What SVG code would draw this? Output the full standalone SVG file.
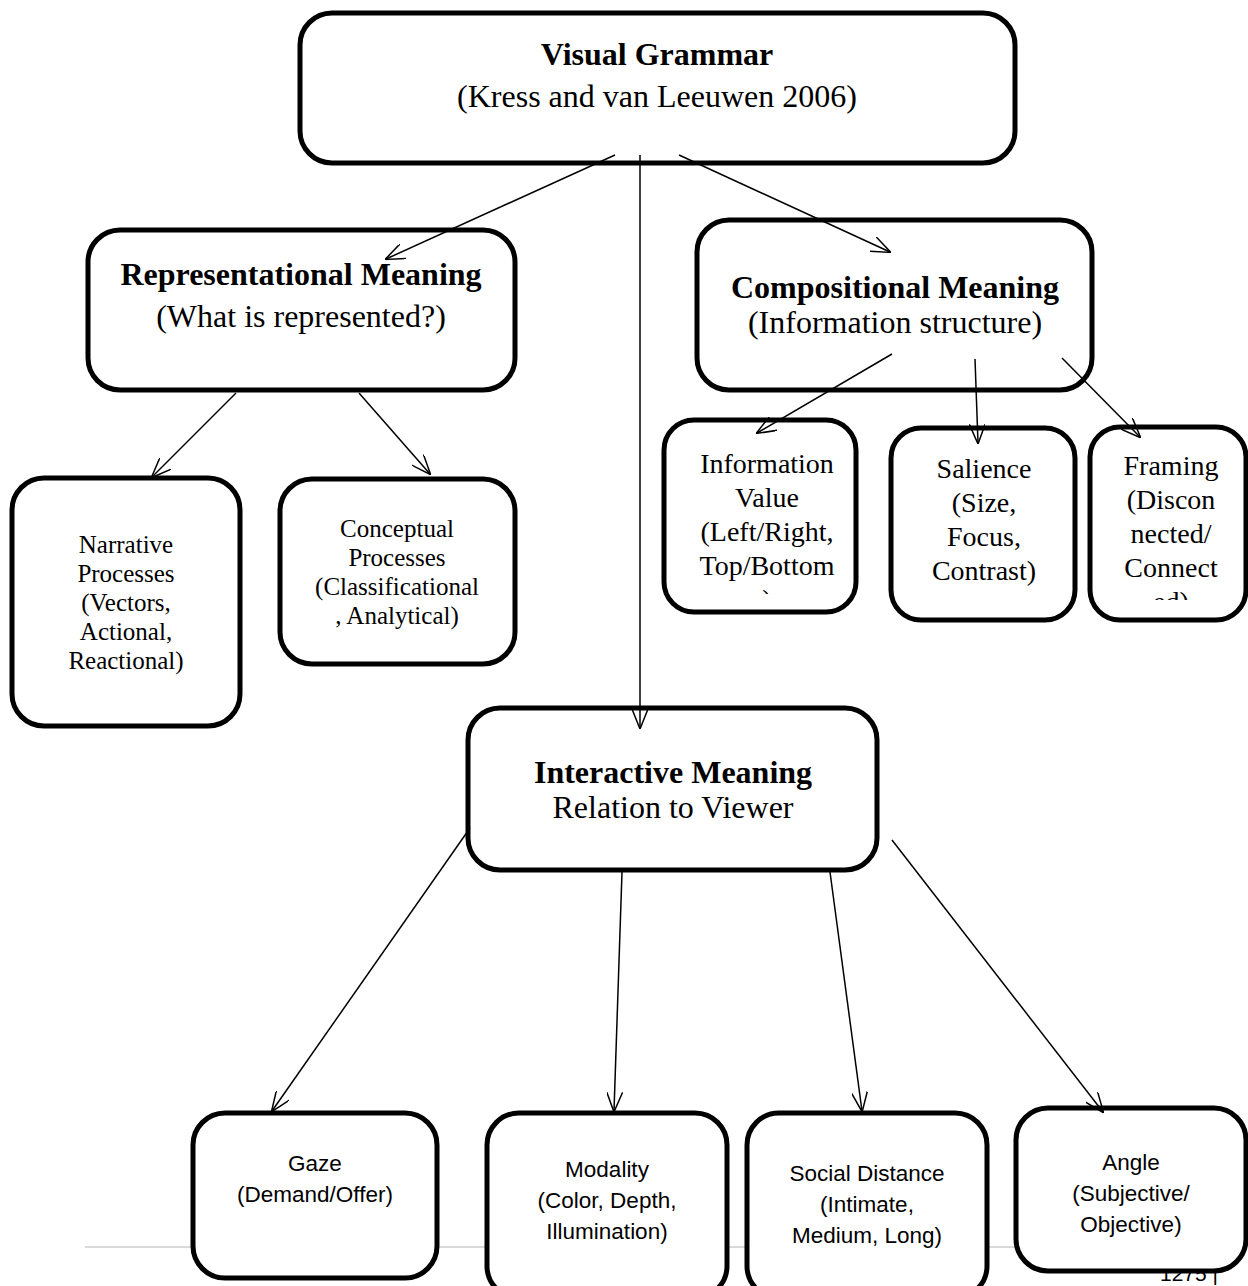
<svg xmlns="http://www.w3.org/2000/svg" width="1248" height="1286" viewBox="0 0 1248 1286">
<defs>
<style>
.box{fill:#fff;stroke:#000;stroke-width:5}
.serif{font-family:"Liberation Serif","Times New Roman",serif;fill:#000;text-anchor:middle}
.h{font-size:32px}
.b{font-weight:bold}
.m{font-size:25px}
.l{font-size:28px}
.sans{font-family:"Liberation Sans",Arial,sans-serif;font-size:22.5px;fill:#000;text-anchor:middle}
.conn line{stroke:#000;stroke-width:1.5;fill:none;marker-end:url(#arr)}
</style>
<marker id="arr" viewBox="0 0 20 16" refX="19" refY="8" markerWidth="20" markerHeight="16" markerUnits="userSpaceOnUse" orient="auto">
<path d="M0,0 L20,8 L0,16" fill="none" stroke="#000" stroke-width="1.5"/>
</marker>
<clipPath id="clipInfo"><rect x="664" y="420" width="194" height="174"/></clipPath>
<clipPath id="clipFrame"><rect x="1090" y="427" width="158" height="173"/></clipPath>
</defs>
<rect width="1248" height="1286" fill="#fff"/>
<g id="footer">
<line x1="85" y1="1247" x2="1160" y2="1247" stroke="#d9d9d9" stroke-width="2"/>
<text x="1160" y="1281" font-family="Liberation Sans,Arial,sans-serif" font-size="21" fill="#000">1275 |</text>
</g>
<g id="visual-grammar">
<rect class="box" x="300" y="13" width="715" height="150" rx="32"/>
<text class="serif h b" x="657" y="65">Visual Grammar</text>
<text class="serif h" x="657" y="107">(Kress and van Leeuwen 2006)</text>
</g>
<g id="representational">
<rect class="box" x="88" y="230" width="427" height="160" rx="32"/>
<text class="serif h b" x="301" y="285">Representational Meaning</text>
<text class="serif h" x="301" y="327">(What is represented?)</text>
</g>
<g id="compositional">
<rect class="box" x="697" y="220" width="395" height="170" rx="32"/>
<text class="serif h b" x="895" y="298">Compositional Meaning</text>
<text class="serif h" x="895" y="333">(Information structure)</text>
</g>
<g id="narrative">
<rect class="box" x="12" y="478" width="228" height="248" rx="32"/>
<text class="serif m" x="126" y="553">Narrative</text>
<text class="serif m" x="126" y="582">Processes</text>
<text class="serif m" x="126" y="611">(Vectors,</text>
<text class="serif m" x="126" y="640">Actional,</text>
<text class="serif m" x="126" y="669">Reactional)</text>
</g>
<g id="conceptual">
<rect class="box" x="280" y="479" width="235" height="185" rx="32"/>
<text class="serif m" x="397" y="537">Conceptual</text>
<text class="serif m" x="397" y="566">Processes</text>
<text class="serif m" x="397" y="595">(Classificational</text>
<text class="serif m" x="397" y="624">, Analytical)</text>
</g>
<g id="information-value">
<rect class="box" x="664" y="420" width="192" height="192" rx="30"/>
<g clip-path="url(#clipInfo)">
<text class="serif l" x="767" y="473">Information</text>
<text class="serif l" x="767" y="507">Value</text>
<text class="serif l" x="767" y="541">(Left/Right,</text>
<text class="serif l" x="767" y="575">Top/Bottom</text>
<text class="serif l" x="767" y="609">)</text>
</g>
</g>
<g id="salience">
<rect class="box" x="891" y="428" width="184" height="192" rx="30"/>
<text class="serif l" x="984" y="478">Salience</text>
<text class="serif l" x="984" y="512">(Size,</text>
<text class="serif l" x="984" y="546">Focus,</text>
<text class="serif l" x="984" y="580">Contrast)</text>
</g>
<g id="framing">
<rect class="box" x="1090" y="427" width="156" height="193" rx="30"/>
<g clip-path="url(#clipFrame)">
<text class="serif l" x="1171" y="475">Framing</text>
<text class="serif l" x="1171" y="509">(Discon</text>
<text class="serif l" x="1171" y="543">nected/</text>
<text class="serif l" x="1171" y="577">Connect</text>
<text class="serif l" x="1171" y="611">ed)</text>
</g>
</g>
<g id="interactive">
<rect class="box" x="468" y="708" width="409" height="162" rx="32"/>
<text class="serif h b" x="673" y="783">Interactive Meaning</text>
<text class="serif h" x="673" y="818">Relation to Viewer</text>
</g>
<g id="gaze">
<rect class="box" x="193" y="1113" width="244" height="165" rx="32"/>
<text class="sans" x="315" y="1171">Gaze</text>
<text class="sans" x="315" y="1202">(Demand/Offer)</text>
</g>
<g id="modality">
<rect class="box" x="487" y="1113" width="240" height="185" rx="32"/>
<text class="sans" x="607" y="1177">Modality</text>
<text class="sans" x="607" y="1208">(Color, Depth,</text>
<text class="sans" x="607" y="1239">Illumination)</text>
</g>
<g id="social-distance">
<rect class="box" x="747" y="1113" width="240" height="185" rx="32"/>
<text class="sans" x="867" y="1181">Social Distance</text>
<text class="sans" x="867" y="1212">(Intimate,</text>
<text class="sans" x="867" y="1243">Medium, Long)</text>
</g>
<g id="angle">
<rect class="box" x="1016" y="1108" width="230" height="163" rx="32"/>
<text class="sans" x="1131" y="1170">Angle</text>
<text class="sans" x="1131" y="1201">(Subjective/</text>
<text class="sans" x="1131" y="1232">Objective)</text>
</g>
<g id="connectors" class="conn">
<line x1="615" y1="155" x2="386" y2="259"/>
<line x1="640" y1="155" x2="640" y2="728"/>
<line x1="679" y1="155" x2="890" y2="252"/>
<line x1="236" y1="393" x2="152" y2="477"/>
<line x1="359" y1="393" x2="430" y2="474"/>
<line x1="892" y1="354" x2="757" y2="433"/>
<line x1="975" y1="359" x2="978" y2="443"/>
<line x1="1062" y1="358" x2="1140" y2="437"/>
<line x1="470" y1="828" x2="272" y2="1111"/>
<line x1="622" y1="872" x2="614" y2="1111"/>
<line x1="830" y1="872" x2="862" y2="1111"/>
<line x1="892" y1="840" x2="1103" y2="1112"/>
</g>
</svg>
